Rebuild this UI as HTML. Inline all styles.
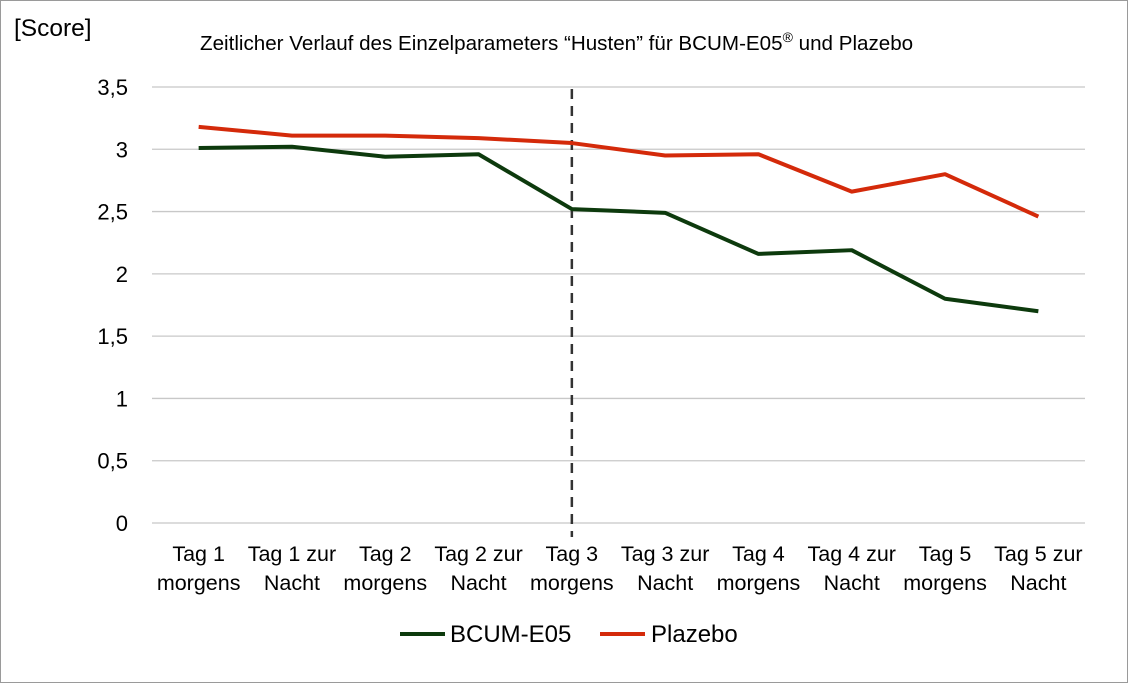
<!DOCTYPE html>
<html><head><meta charset="utf-8"><style>
html,body{margin:0;padding:0;background:#fff;}
svg{display:block;font-family:"Liberation Sans",Arial,sans-serif;}
</style></head><body>
<svg id="chart" width="1128" height="683" viewBox="0 0 1128 683">
<rect x="0.5" y="0.5" width="1127" height="682" fill="#fff" stroke="#9a9a9a"/>
<text x="14" y="36" font-size="24.5" fill="#000">[Score]</text>
<text x="200" y="50" font-size="20.6" fill="#000">Zeitlicher Verlauf des Einzelparameters “Husten” für BCUM-E05<tspan font-size="14" dy="-8">®</tspan><tspan dy="8"> und Plazebo</tspan></text>
<g id="grid"></g><g id="yt"></g><g id="xt"></g><g id="series"></g>
<g>
<line x1="400" y1="634" x2="445" y2="634" stroke="#0d3a0d" stroke-width="4"/>
<text x="450" y="642" font-size="24">BCUM-E05</text>
<line x1="600" y1="634" x2="645" y2="634" stroke="#d42a0a" stroke-width="4"/>
<text x="651" y="642" font-size="24">Plazebo</text>
</g>
</svg>
<script>
const categories=[["Tag 1","morgens"],["Tag 1 zur","Nacht"],["Tag 2","morgens"],["Tag 2 zur","Nacht"],["Tag 3","morgens"],["Tag 3 zur","Nacht"],["Tag 4","morgens"],["Tag 4 zur","Nacht"],["Tag 5","morgens"],["Tag 5 zur","Nacht"]];
const bcum=[3.01,3.02,2.94,2.96,2.52,2.49,2.16,2.19,1.80,1.70];
const plazebo=[3.18,3.11,3.11,3.09,3.05,2.95,2.96,2.66,2.80,2.46];
const yTicks=[0,0.5,1,1.5,2,2.5,3,3.5];
const yTickLabels=["0","0,5","1","1,5","2","2,5","3","3,5"];
const dividerIndex=4;
const NS="http://www.w3.org/2000/svg";
const x0=152,x1=1085,y0=523,y1=87,ymax=3.5;
const bw=(x1-x0)/categories.length;
const X=i=>x0+bw*(i+0.5);
const Y=v=>y0-(v/ymax)*(y0-y1);
function mk(t,a,p){const e=document.createElementNS(NS,t);for(const k in a)e.setAttribute(k,a[k]);p.appendChild(e);return e;}
const grid=document.getElementById('grid'),yt=document.getElementById('yt'),xt=document.getElementById('xt'),ser=document.getElementById('series');
yTicks.forEach((v,i)=>{
 const l=mk('line',{x1:x0,x2:x1,y1:Y(v),y2:Y(v),stroke:'#c8c8c8','stroke-width':1.3},grid);
 
 
 const t=mk('text',{x:128,y:Y(v)+8,'font-size':22,'text-anchor':'end'},yt);
 t.textContent=yTickLabels[i];
 
 
});
categories.forEach((c,i)=>{
 const t=mk('text',{x:X(i),y:561,'font-size':21.5,'text-anchor':'middle'},xt);
 
 
 mk('tspan',{x:X(i),dy:0},t).textContent=c[0];
 mk('tspan',{x:X(i),dy:29},t).textContent=c[1];
});
const d=mk('line',{x1:X(dividerIndex),x2:X(dividerIndex),y1:89,y2:537,stroke:'#333','stroke-width':2.5,'stroke-dasharray':'10,7'},ser);


function line(vals,col,name){
 const p=mk('polyline',{points:vals.map((v,i)=>X(i)+','+Y(v)).join(' '),fill:'none',stroke:col,'stroke-width':4,'stroke-linejoin':'round'},ser);
 
 
}
line(plazebo,'#d42a0a','plazebo-line');
line(bcum,'#0d3a0d','bcum-line');
</script>
</body></html>
